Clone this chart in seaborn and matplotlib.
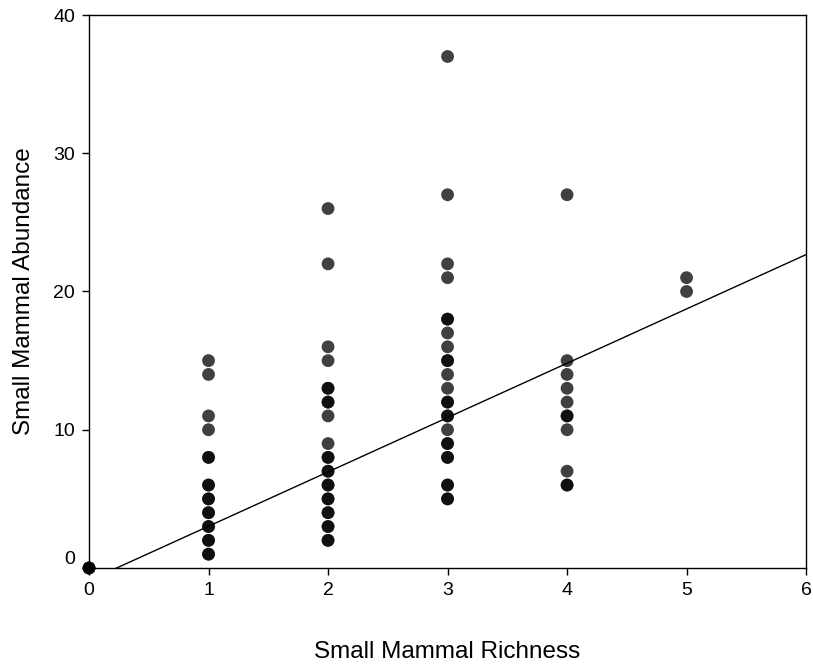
import numpy as np
import pandas as pd
import matplotlib
matplotlib.use("Agg")
import matplotlib.pyplot as plt
import matplotlib.transforms as mtransforms
import seaborn as sns

# Observed sites: richness, abundance and how many sites share that pair
richness = [0,
            1, 1, 1, 1, 1, 1, 1, 1, 1, 1, 1,
            2, 2, 2, 2, 2, 2, 2, 2, 2, 2, 2, 2, 2, 2, 2,
            3, 3, 3, 3, 3, 3, 3, 3, 3, 3, 3, 3, 3, 3, 3, 3, 3,
            4, 4, 4, 4, 4, 4, 4, 4, 4,
            5, 5]
abundance = [0,
             15, 14, 11, 10, 8, 6, 5, 4, 3, 2, 1,
             26, 22, 16, 15, 13, 12, 11, 9, 8, 7, 6, 5, 4, 3, 2,
             37, 27, 22, 21, 18, 17, 16, 15, 14, 13, 12, 11, 10, 9, 8, 6, 5,
             27, 15, 14, 13, 12, 11, 10, 7, 6,
             21, 20]
sites = [3,
         1, 1, 1, 1, 2, 2, 2, 2, 2, 2, 2,
         1, 1, 1, 1, 2, 2, 1, 1, 2, 2, 2, 2, 2, 2, 2,
         1, 1, 1, 1, 2, 1, 1, 2, 1, 1, 2, 2, 1, 2, 2, 2, 2,
         1, 1, 1, 1, 1, 2, 1, 1, 2,
         1, 1]

# Least-squares fit line
fit_intercept = -0.91
fit_slope = 3.93
line_x = [0, 6]

x_ticks = [0, 1, 2, 3, 4, 5, 6]
y_ticks = [0, 10, 20, 30, 40]

df = pd.DataFrame({
    "richness": np.repeat(richness, sites),
    "abundance": np.repeat(abundance, sites),
})

sns.set_theme(style="ticks")
plt.rcParams["font.family"] = ["Liberation Sans", "DejaVu Sans"]

fig = plt.figure(figsize=(8.13, 6.64), dpi=100)
ax = fig.add_axes([0.1095, 0.1446, 0.882, 0.8328])

sns.scatterplot(data=df, x="richness", y="abundance", ax=ax,
                color="black", alpha=0.75, s=85, marker="o",
                edgecolor="none", linewidth=0, clip_on=False, zorder=3)

sns.lineplot(x=line_x, y=[fit_intercept + fit_slope * v for v in line_x],
             ax=ax, color="black", linewidth=1.0, zorder=2)

ax.set_xlim(0, 6)
ax.set_ylim(0, 40)
ax.set_xticks(x_ticks)
ax.set_yticks(y_ticks)
ax.set_xticklabels([str(v) for v in x_ticks])
ax.set_yticklabels([str(v) for v in y_ticks])
ax.tick_params(axis="both", direction="out", length=5, width=1.0,
               labelsize=14, colors="black", pad=5)

for side in ["left", "right", "top", "bottom"]:
    ax.spines[side].set_visible(True)
    ax.spines[side].set_color("black")
    ax.spines[side].set_linewidth(1.0)

# lift the zero label on the y axis a little off the corner
zero_label = ax.get_yticklabels()[0]
zero_label.set_transform(zero_label.get_transform() +
                         mtransforms.ScaledTranslation(0, 10 / 100, fig.dpi_scale_trans))

ax.set_xlabel("Small Mammal Richness", fontsize=17.5, labelpad=30, color="black")
ax.set_ylabel("Small Mammal Abundance", fontsize=17.5, labelpad=13, color="black")
ax.grid(False)

fig.savefig("out.png", dpi=100)
